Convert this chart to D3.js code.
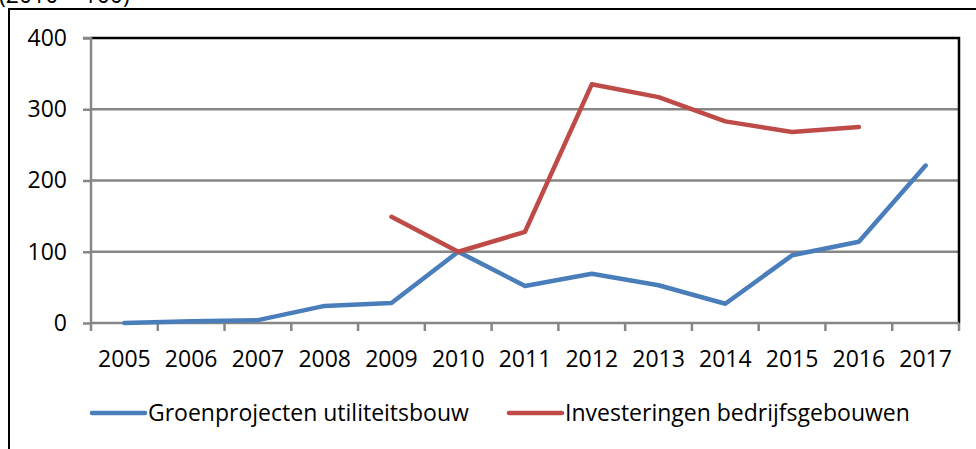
<!DOCTYPE html>
<html><head><meta charset="utf-8">
<script src="https://cdn.jsdelivr.net/npm/d3@7"></script>
<style>body{margin:0;background:#fff;}svg{display:block;}text{font-family:"Open Sans",sans-serif;fill:#000;}</style>
</head><body>
<script>
const years = ["2005","2006","2007","2008","2009","2010","2011","2012","2013","2014","2015","2016","2017"];
const groen = [0,2.5,4,24,28,100,52,69,53,27,95,114,221];
const invest = [null,null,null,null,149,100,128,335,317,283,268,275,null];
const seriesNames = ["Groenprojecten utiliteitsbouw","Investeringen bedrijfsgebouwen"];
const seriesColors = ["#4A7EBB","#BE4B48"];
const yTicks = [0,100,200,300,400];
const subtitle = "(2010 = 100)";

const W=976,H=449;
const svg=d3.select("body").append("svg").attr("width",W).attr("height",H);
const m={l:91,r:959,t:38,b:323};
const x=d3.scaleBand().domain(years).range([m.l,m.r]).padding(0);
const y=d3.scaleLinear().domain([0,400]).range([m.b,m.t]);
const FS=23;

// outer frame
svg.append("path").attr("d",`M9,${H} V9 H${W}`).attr("fill","none").attr("stroke","#000").attr("stroke-width",2);
svg.append("text").attr("x",-1).attr("y",3).attr("font-size",FS).text(subtitle);

// gridlines
svg.append("g").selectAll("line").data(yTicks.filter(d=>d>0&&d<400)).join("line")
 .attr("x1",m.l).attr("x2",m.r).attr("y1",d=>y(d)).attr("y2",d=>y(d))
 .attr("stroke","#868686").attr("stroke-width",2.5);
// top & right border black
svg.append("path").attr("d",`M${m.l},${y(400)} H${m.r} V${m.b}`).attr("fill","none").attr("stroke","#000").attr("stroke-width",2.5);

// y axis
const ya=svg.append("g").attr("transform",`translate(${m.l},0)`)
 .call(d3.axisLeft(y).tickValues(yTicks).tickSize(8).tickPadding(16).tickFormat(d3.format("d")));
ya.select(".domain").attr("stroke","#868686").attr("stroke-width",2.5).attr("d",`M-8,${y(400)}H0V${m.b}`);
ya.selectAll(".tick line").attr("stroke","#868686").attr("stroke-width",2.5);
ya.selectAll(".tick text").attr("font-size",FS).attr("font-family","Open Sans").attr("fill","#000");

// x axis
const xa=svg.append("g").attr("transform",`translate(0,${m.b})`)
 .call(d3.axisBottom(x).tickSize(0).tickPadding(0));
xa.select(".domain").attr("stroke","#868686").attr("stroke-width",2.5).attr("d",`M${m.l},0H${m.r}`);
xa.selectAll(".tick text").attr("font-size",FS).attr("font-family","Open Sans").attr("fill","#000").attr("dy",null).attr("y",44);
const bounds=years.map(d=>x(d)).concat([m.r]);
svg.append("g").selectAll("line").data(bounds).join("line")
 .attr("x1",d=>d).attr("x2",d=>d).attr("y1",m.b).attr("y2",m.b+8)
 .attr("stroke","#868686").attr("stroke-width",2.5);

// lines
const line=d3.line().defined(d=>d.v!=null).x(d=>x(d.k)+x.bandwidth()/2).y(d=>y(d.v));
[groen,invest].forEach((s,i)=>{
  svg.append("path").datum(years.map((k,j)=>({k,v:s[j]}))).attr("d",line)
   .attr("fill","none").attr("stroke",seriesColors[i]).attr("stroke-width",4.5)
   .attr("stroke-linejoin","round").attr("stroke-linecap","round");
});

// legend
const leg=[{x:90},{x:507}];
leg.forEach((l,i)=>{
  svg.append("line").attr("x1",l.x+2).attr("x2",l.x+55).attr("y1",413).attr("y2",413)
   .attr("stroke",seriesColors[i]).attr("stroke-width",4.5).attr("stroke-linecap","round");
  svg.append("text").attr("x",l.x+58).attr("y",413).attr("dy","0.35em").attr("font-size",FS).text(seriesNames[i]);
});
</script>
</body></html>
